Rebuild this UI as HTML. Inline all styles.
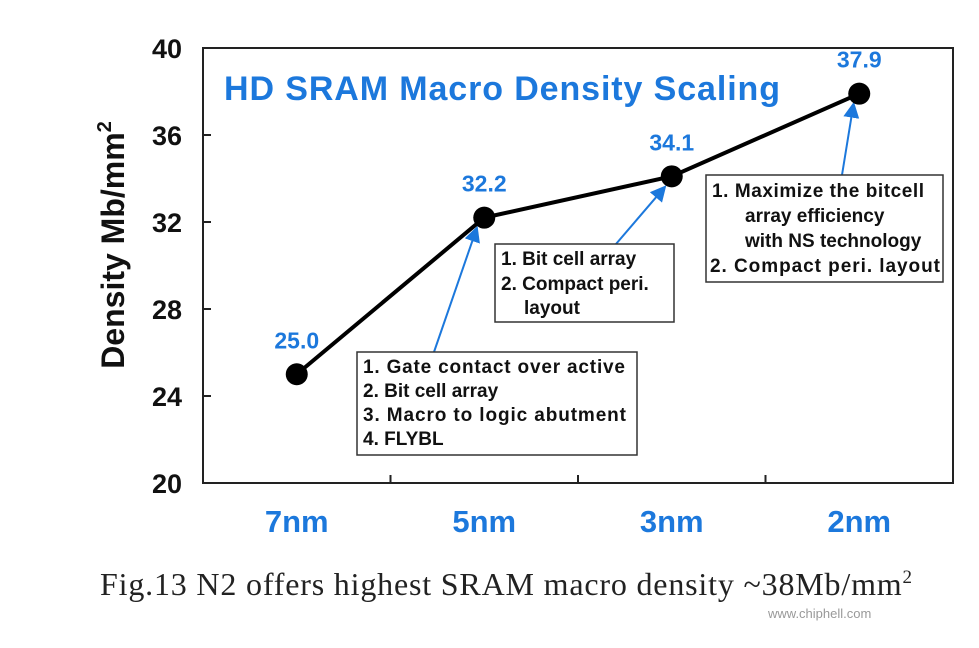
<!DOCTYPE html>
<html><head><meta charset="utf-8"><style>
body{margin:0;background:#fff;width:979px;height:648px;overflow:hidden}
svg{display:block}
.b{font-family:"Liberation Sans",Arial,sans-serif;font-weight:bold}
.box{font-family:"Liberation Sans",Arial,sans-serif;font-weight:bold;font-size:19px;fill:#111}
</style></head><body>
<svg id="chart" width="979" height="648">
<rect width="979" height="648" fill="#fff"/>
<g id="axes"></g>
<g id="arrows"></g>
<g id="series"></g>
<text class="b" x="224" y="100" font-size="34" textLength="556" fill="#1c78dc">HD SRAM Macro Density Scaling</text>
<text class="b" transform="translate(124,245) rotate(-90)" text-anchor="middle" font-size="32" fill="#111">Density Mb/mm<tspan font-size="20" dy="-13">2</tspan></text>
<g>
<rect x="357" y="352" width="280" height="103" fill="#fff" stroke="#333" stroke-width="1.5"/>
<text class="box" x="363" y="373" textLength="262">1. Gate contact over active</text>
<text class="box" x="363" y="397">2. Bit cell array</text>
<text class="box" x="363" y="421" textLength="263">3. Macro to logic abutment</text>
<text class="box" x="363" y="445">4. FLYBL</text>
</g>
<g>
<rect x="495" y="244" width="179" height="78" fill="#fff" stroke="#333" stroke-width="1.5"/>
<text class="box" x="501" y="265">1. Bit cell array</text>
<text class="box" x="501" y="290">2. Compact peri.</text>
<text class="box" x="524" y="314">layout</text>
</g>
<g>
<rect x="706" y="175" width="237" height="107" fill="#fff" stroke="#333" stroke-width="1.5"/>
<text class="box" x="712" y="197" textLength="212">1. Maximize the bitcell</text>
<text class="box" x="745" y="222">array efficiency</text>
<text class="box" x="745" y="247">with NS technology</text>
<text class="box" x="710" y="272" textLength="230">2. Compact peri. layout</text>
</g>
<text x="100" y="595" font-family="'Liberation Serif',serif" font-size="32" textLength="812" fill="#222">Fig.13  N2 offers highest SRAM macro density ~38Mb/mm<tspan font-size="19" dy="-12">2</tspan></text>
<text x="768" y="618" font-family="'Liberation Sans',sans-serif" font-size="13" fill="#999">www.chiphell.com</text>
</svg>
<script>
const categories=["7nm","5nm","3nm","2nm"];
const densities=[25.0,32.2,34.1,37.9];
const valueLabels=["25.0","32.2","34.1","37.9"];
const yTicks=[20,24,28,32,36,40];
const NS="http://www.w3.org/2000/svg";
const L=203,R=953,T=48,B=483;
const step=(R-L)/categories.length;
const x=i=>L+step*(i+0.5);
const y=v=>B-(v-20)/20*(B-T);
function mk(tag,attrs,parent,txt){const e=document.createElementNS(NS,tag);for(const k in attrs)e.setAttribute(k,attrs[k]);if(txt!==undefined)e.textContent=txt;parent.appendChild(e);return e;}
const ax=document.getElementById('axes');
let f=mk('rect',{x:L,y:T,width:R-L,height:B-T,fill:'none',stroke:'#222','stroke-width':2},ax);


yTicks.forEach(v=>{
 let t=mk('line',{x1:L,x2:L+8,y1:y(v),y2:y(v),stroke:'#222','stroke-width':2},ax);
 
 
 let l=mk('text',{x:L-21,y:y(v)+10,'text-anchor':'end','font-size':27,fill:'#111',class:'b'},ax,String(v));
 
 
});
categories.forEach((c,i)=>{
 if(i>0){let t=mk('line',{x1:L+step*i,x2:L+step*i,y1:B,y2:B-8,stroke:'#222','stroke-width':2},ax);
 
 }
 let l=mk('text',{x:x(i),y:532,'text-anchor':'middle','font-size':31,fill:'#1c78dc',class:'b'},ax,c);
 
 
});
const ar=document.getElementById('arrows');
mk('defs',{},ar).innerHTML='<marker id="ah" markerWidth="8" markerHeight="8" refX="6" refY="4" orient="auto"><path d="M0,0 L8,4 L0,8 z" fill="#1c78dc"/></marker>';
[[434,352,1],[616,244,2],[842,175,3]].forEach(([sx,sy,i])=>{
 let a=mk('line',{x1:sx,y1:sy,x2:x(i)-(i==3?6:8),y2:y(densities[i])+12,stroke:'#1c78dc','stroke-width':2,'marker-end':'url(#ah)'},ar);
 
 
});
const s=document.getElementById('series');
let ln=mk('polyline',{points:densities.map((v,i)=>x(i)+','+y(v)).join(' '),fill:'none',stroke:'#000','stroke-width':4},s);


densities.forEach((v,i)=>{
 let p=mk('circle',{cx:x(i),cy:y(v),r:11,fill:'#000'},s);
 
 
 let l=mk('text',{x:x(i),y:y(v)-26,'text-anchor':'middle','font-size':23,fill:'#1c78dc',class:'b'},s,valueLabels[i]);
 
 
});
</script>
</body></html>
